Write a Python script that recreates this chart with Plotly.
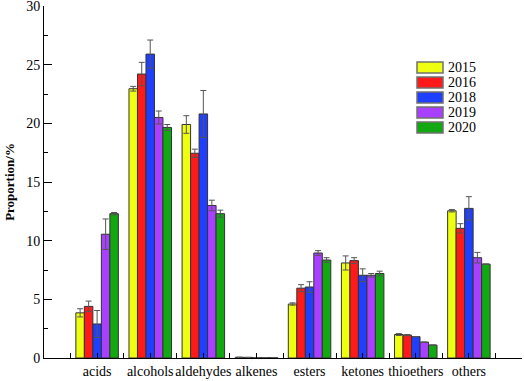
import plotly.graph_objects as go

# ------------------ DATA ------------------
categories = ["acids", "alcohols", "aldehydes", "alkenes", "esters", "ketones", "thioethers", "others"]
years = ["2015", "2016", "2018", "2019", "2020"]

vals_2015 = [3.85, 22.95, 19.9, 0.06, 4.6, 8.1, 2.0, 12.55]
vals_2016 = [4.4, 24.2, 17.45, 0.05, 5.95, 8.3, 1.95, 11.05]
vals_2018 = [2.9, 25.9, 20.8, 0.04, 6.05, 7.05, 1.82, 12.75]
vals_2019 = [10.55, 20.5, 13.0, 0.03, 8.95, 7.05, 1.35, 8.55]
vals_2020 = [12.3, 19.65, 12.3, 0.03, 8.35, 7.2, 1.1, 8.0]

err_2015 = [0.35, 0.2, 0.75, 0.0, 0.1, 0.6, 0.08, 0.1]
err_2016 = [0.45, 1.0, 0.35, 0.0, 0.3, 0.25, 0.05, 0.4]
err_2018 = [1.15, 1.2, 2.0, 0.0, 0.45, 0.55, 0.0, 1.0]
err_2019 = [1.3, 0.55, 0.45, 0.0, 0.2, 0.15, 0.0, 0.45]
err_2020 = [0.1, 0.25, 0.3, 0.0, 0.2, 0.2, 0.0, 0.0]

colors = ["#EEFF10", "#FF1A1A", "#1F3FFF", "#A93FFF", "#12A812"]

series = [vals_2015, vals_2016, vals_2018, vals_2019, vals_2020]
errors = [err_2015, err_2016, err_2018, err_2019, err_2020]

FONT = "Liberation Serif, Times New Roman, serif"
xs = list(range(len(categories)))

fig = go.Figure()
for name, v, e, c in zip(years, series, errors, colors):
    fig.add_trace(go.Bar(
        x=xs, y=v, name=name,
        marker=dict(color=c, line=dict(color="#333333", width=1)),
        error_y=dict(type="data", array=e, symmetric=True,
                     color="#555555", thickness=1, width=3),
        showlegend=False,
    ))

# legend drawn by hand (wide swatches like the original)
for i, (name, c) in enumerate(zip(years, colors)):
    top = 62 + i * 15
    fig.add_shape(type="rect", xref="paper", yref="paper",
                  x0=(417 - 44) / 478, x1=(443 - 44) / 478,
                  y0=(358 - top) / 352, y1=(358 - top - 11) / 352,
                  fillcolor=c, line=dict(color="#707070", width=1.5))
    fig.add_annotation(text=name, xref="paper", yref="paper",
                       x=(446 - 44) / 478, y=(358 - top - 5.5) / 352,
                       xanchor="left", yanchor="middle", showarrow=False,
                       font=dict(family=FONT, size=14, color="black"))

fig.update_layout(
    width=524, height=381,
    margin=dict(l=44, r=2, t=6, b=23),
    paper_bgcolor="white", plot_bgcolor="white",
    barmode="group", bargap=0.2, bargroupgap=0,
    font=dict(family=FONT, size=14, color="black"),
)
fig.update_xaxes(
    range=[-1, 8], tickvals=xs, ticktext=categories, tickangle=0,
    automargin=False,
    showline=True, linecolor="black", linewidth=1,
    ticks="inside", ticklen=5, tickcolor="black",
    minor=dict(tick0=0.5, dtick=1, ticks="inside", ticklen=5, tickcolor="black"),
    showgrid=False, zeroline=False,
    tickfont=dict(family=FONT, size=14),
)
fig.update_yaxes(
    range=[0, 30.001], tickvals=[0, 5, 10, 15, 20, 25, 30],
    automargin=False, ticklabeloverflow="allow",
    showline=True, linecolor="black", linewidth=1,
    ticks="inside", ticklen=8, tickcolor="black",
    minor=dict(dtick=2.5, ticks="inside", ticklen=4, tickcolor="black"),
    showgrid=False, zeroline=False,
    title=dict(text="<b>Proportion/%</b>", font=dict(family=FONT, size=13), standoff=8),
    tickfont=dict(family=FONT, size=14),
)

# page has an 8px body margin by default; drop it so the figure sits at 0,0
fig.write_html("out.html", config={"displayModeBar": False},
               post_script="document.body.style.margin='0';")
